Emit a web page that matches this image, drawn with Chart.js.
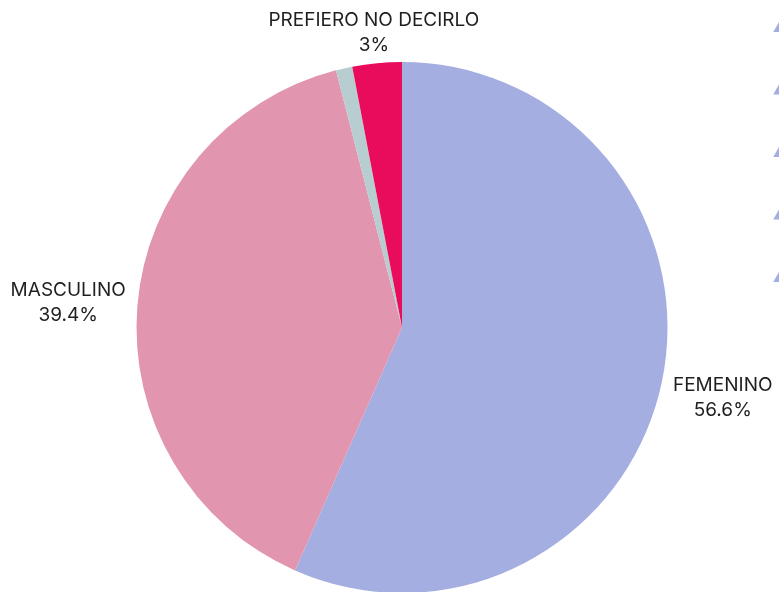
<!DOCTYPE html>
<html>
<head>
<meta charset="utf-8">
<script src="https://cdn.jsdelivr.net/npm/chart.js@4/dist/chart.umd.min.js"></script>
<style>
  html, body { margin: 0; padding: 0; background: #ffffff; overflow: hidden; }
  #wrap { width: 779px; height: 593px; position: relative; }
</style>
</head>
<body>
<div id="wrap"><canvas id="c"></canvas></div>
<script>
// Respuestas por género (porcentaje)
const categories = ['FEMENINO', 'MASCULINO', 'OTRO', 'PREFIERO NO DECIRLO'];
const values = [56.6, 39.4, 1, 3];
const sliceColors = ['#a4aee1', '#e295af', '#b8cdd0', '#e90b5c'];
const labelledMin = 2; // porciones más pequeñas quedan sin etiqueta

// Etiquetas exteriores: nombre y porcentaje junto al borde de cada porción
const outerLabels = {
  id: 'outerLabels',
  afterDatasetsDraw(chart) {
    const ctx = chart.ctx;
    const meta = chart.getDatasetMeta(0);
    const offset = 11;
    const lineH = 25;
    const nudgeY = 3;
    ctx.save();
    ctx.font = '19px Inter, "DejaVu Sans", sans-serif';
    ctx.fillStyle = '#1f1f1f';
    ctx.textBaseline = 'middle';
    ctx.textAlign = 'center';
    meta.data.forEach((arc, i) => {
      const v = values[i];
      if (v < labelledMin) return;
      const p = arc.getProps(['x', 'y', 'startAngle', 'endAngle', 'outerRadius'], true);
      const mid = (p.startAngle + p.endAngle) / 2;
      const ux = Math.cos(mid), uy = Math.sin(mid);
      const lines = [categories[i], v + '%'];
      const w = Math.max(...lines.map(t => ctx.measureText(t).width));
      const h = (lines.length - 1) * lineH;
      const extent = Math.abs(ux) * w / 2 + Math.abs(uy) * h / 2;
      const d = p.outerRadius + offset + extent;
      const cx = p.x + ux * d;
      const cy = p.y + uy * d + nudgeY;
      const top = cy - h / 2;
      lines.forEach((t, k) => {
        ctx.fillText(t, cx, top + lineH * k);
      });
    });
    ctx.restore();
  }
};

// Marcadores triangulares del borde derecho
const sideMarks = {
  id: 'sideMarks',
  afterDraw(chart) {
    const ctx = chart.ctx;
    const x = chart.width + 1;
    const rows = 5, top = 28, gap = 62.5, r = 7.8;
    ctx.save();
    ctx.fillStyle = '#a4aee1';
    for (let k = 0; k < rows; k++) {
      const y = top + k * gap;
      ctx.beginPath();
      ctx.moveTo(x, y - r);
      ctx.lineTo(x + r * Math.sin(2 * Math.PI / 3), y - r * Math.cos(2 * Math.PI / 3));
      ctx.lineTo(x + r * Math.sin(4 * Math.PI / 3), y - r * Math.cos(4 * Math.PI / 3));
      ctx.closePath();
      ctx.fill();
    }
    ctx.restore();
  }
};

new Chart(document.getElementById('c'), {
  type: 'pie',
  data: {
    labels: categories,
    datasets: [{
      data: values,
      backgroundColor: sliceColors,
      borderWidth: 0
    }]
  },
  options: {
    responsive: true,
    maintainAspectRatio: false,
    animation: false,
    layout: { padding: { top: 62, bottom: 0, left: 25, right: 0 } },
    plugins: {
      legend: { display: false },
      tooltip: { enabled: false }
    }
  },
  plugins: [outerLabels, sideMarks]
});
</script>
</body>
</html>
